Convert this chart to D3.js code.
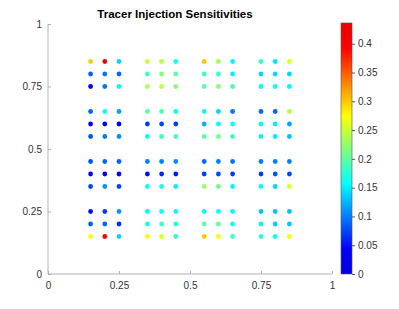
<!DOCTYPE html>
<html>
<head>
<meta charset="utf-8">
<script src="https://cdn.jsdelivr.net/npm/d3@7"></script>
<style>
    body { margin: 0; background: #fff; }
    text { font-family: "Liberation Sans", Arial, sans-serif; }
</style>
</head>
<body>
<div id="chart"></div>
<script>
// sample positions of the injection points
const xPositions = [0.15, 0.2, 0.25, 0.35, 0.4, 0.45, 0.55, 0.6, 0.65, 0.75, 0.8, 0.85];
const yPositions = [0.85, 0.8, 0.75, 0.65, 0.6, 0.55, 0.45, 0.4, 0.35, 0.25, 0.2, 0.15];

// sensitivity per point, one row per y position (top to bottom)
const sensitivities = [
    [0.30, 0.43, 0.14, 0.25, 0.24, 0.16, 0.30, 0.23, 0.155, 0.18, 0.145, 0.26],
    [0.085, 0.095, 0.09, 0.185, 0.22, 0.20, 0.185, 0.18, 0.15, 0.14, 0.14, 0.14],
    [0.045, 0.095, 0.155, 0.24, 0.245, 0.22, 0.20, 0.22, 0.19, 0.155, 0.16, 0.155],
    [0.09, 0.16, 0.115, 0.20, 0.19, 0.16, 0.165, 0.14, 0.095, 0.09, 0.09, 0.24],
    [0.04, 0.045, 0.045, 0.07, 0.075, 0.07, 0.12, 0.155, 0.16, 0.155, 0.15, 0.115],
    [0.08, 0.10, 0.11, 0.16, 0.185, 0.19, 0.20, 0.21, 0.185, 0.155, 0.15, 0.13],
    [0.08, 0.09, 0.085, 0.10, 0.10, 0.105, 0.09, 0.10, 0.095, 0.10, 0.10, 0.10],
    [0.045, 0.045, 0.045, 0.05, 0.06, 0.055, 0.07, 0.075, 0.07, 0.07, 0.08, 0.075],
    [0.075, 0.11, 0.075, 0.16, 0.17, 0.15, 0.23, 0.21, 0.155, 0.155, 0.14, 0.26],
    [0.05, 0.07, 0.11, 0.155, 0.16, 0.155, 0.155, 0.16, 0.155, 0.13, 0.13, 0.13],
    [0.085, 0.09, 0.065, 0.165, 0.185, 0.165, 0.20, 0.20, 0.16, 0.155, 0.135, 0.13],
    [0.27, 0.41, 0.14, 0.27, 0.26, 0.18, 0.30, 0.27, 0.185, 0.18, 0.16, 0.27]
];

const axisTicks = [0, 0.25, 0.5, 0.75, 1];
const colorTicks = [0, 0.05, 0.1, 0.15, 0.2, 0.25, 0.3, 0.35, 0.4];
const colorMax = 0.436;
const chartTitle = "Tracer Injection Sensitivities";

const width = 399, height = 309;
const margin = { left: 48, right: 67, top: 24, bottom: 35 };

// jet-like colormap
const jetStops = [
    [0, "rgb(0,0,225)"], [0.1, "rgb(0,0,255)"], [0.36, "rgb(0,255,255)"],
    [0.63, "rgb(255,255,0)"], [0.9, "rgb(255,0,0)"], [1, "rgb(235,0,0)"]
];
const color = d3.scaleLinear()
    .domain(jetStops.map(s => s[0] * colorMax))
    .range(jetStops.map(s => s[1]))
    .interpolate(d3.interpolateRgb)
    .clamp(true);

const svg = d3.select("#chart").append("svg")
    .attr("width", width)
    .attr("height", height);

const x = d3.scaleLinear().domain([0, 1]).range([margin.left, width - margin.right]);
const y = d3.scaleLinear().domain([0, 1]).range([height - margin.bottom, margin.top]);

const points = [];
yPositions.forEach((yv, i) => {
    xPositions.forEach((xv, j) => {
        points.push({ x: xv, y: yv, v: sensitivities[i][j] });
    });
});

//axes
const xAxis = svg.append("g")
    .attr("transform", `translate(0,${y(0)})`)
    .call(d3.axisBottom(x).tickValues(axisTicks).tickFormat(d3.format("")).tickSize(-3).tickPadding(6));
const yAxis = svg.append("g")
    .attr("transform", `translate(${x(0)},0)`)
    .call(d3.axisLeft(y).tickValues(axisTicks).tickFormat(d3.format("")).tickSize(-3).tickPadding(6));

[xAxis, yAxis].forEach(a => {
    a.select(".domain").attr("stroke", "#b3b3b3").attr("d", null);
    a.selectAll(".tick line").attr("stroke", "#b3b3b3");
    a.selectAll(".tick text").attr("fill", "#333").style("font-size", "10px");
});
xAxis.select(".domain").attr("d", `M${x(0)},0H${x(1)}`);
yAxis.select(".domain").attr("d", `M0,${y(0)}V${y(1)}`);
xAxis.selectAll(".tick text").attr("dy", "0.9em");

svg.append("g")
    .selectAll("circle")
    .data(points)
    .join("circle")
    .attr("cx", d => x(d.x))
    .attr("cy", d => y(d.y))
    .attr("r", 2.4)
    .attr("fill", d => color(d.v));

svg.append("text")
    .attr("x", 175)
    .attr("y", 18)
    .attr("text-anchor", "middle")
    .style("font-size", "11.5px")
    .style("font-weight", "bold")
    .text(chartTitle);

// colorbar
const cb = { x: 341, w: 11 };
const cy = d3.scaleLinear().domain([0, colorMax]).range([y(0), 23]);
const defs = svg.append("defs");
const grad = defs.append("linearGradient")
    .attr("id", "jet")
    .attr("x1", 0).attr("y1", 1).attr("x2", 0).attr("y2", 0);
grad.selectAll("stop")
    .data(jetStops)
    .join("stop")
    .attr("offset", d => d[0])
    .attr("stop-color", d => d[1]);

svg.append("rect")
    .attr("x", cb.x)
    .attr("y", cy(colorMax))
    .attr("width", cb.w)
    .attr("height", cy(0) - cy(colorMax))
    .attr("fill", "url(#jet)")
    .attr("stroke", "#555")
    .attr("stroke-width", 0.6);

const cAxis = svg.append("g")
    .attr("transform", `translate(${cb.x + cb.w},0)`)
    .call(d3.axisRight(cy).tickValues(colorTicks).tickFormat(d3.format("")).tickSize(3).tickPadding(3));
cAxis.select(".domain").remove();
cAxis.selectAll(".tick line").attr("stroke", "#555");
cAxis.selectAll(".tick text").attr("fill", "#333").style("font-size", "10px");
</script>
</body>
</html>
